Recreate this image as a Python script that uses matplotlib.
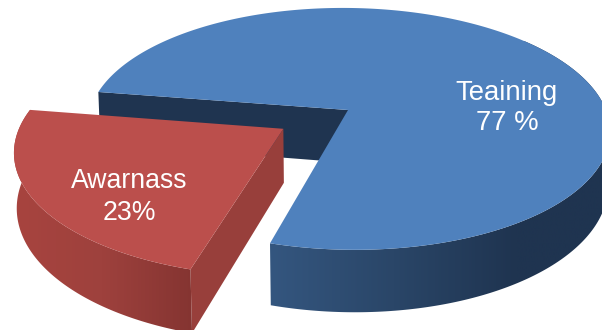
"""Exploded 3D-style pie of training vs awareness shares."""

import numpy as np
import matplotlib
matplotlib.use("Agg")
import matplotlib.pyplot as plt
from matplotlib.colors import LinearSegmentedColormap
from matplotlib.patches import Polygon

# Chart data
categories = ["Awarnass", "Teaining"]
values = [23, 77]
label_texts = ["Awarnass\n23%", "Teaining\n77 %"]

plt.rcParams['font.family'] = ['Liberation Sans', 'DejaVu Sans']

# Projection of the tilted disk onto the page, in pixels
CX, CY = 348.0, 110.0
RX, RY = 258.0, 118.0
PERSPECTIVE = 0.156
DEPTH = 52.7
START_ANGLE = 171.0
EXPLODE = 0.29

# Horizontal drift with distance below the centre: (linear, quadratic)
BLUE_SKEW = (0.05, 0.0)
RED_SKEW = (0.0, 0.00024)


def project(u, v, z, skew):
    """Map disk coordinates (u, v) at drop z (0 top, 1 bottom) to pixels."""
    u, v = np.asarray(u, dtype=float), np.asarray(v, dtype=float)
    den = 1 + PERSPECTIVE * v
    dy = -RY * v / den
    x = CX + RX * u / (den + 0.008 * z) + skew[0] * dy + skew[1] * dy ** 2
    y = CY + dy + DEPTH * z / den
    return x, y


def arc(theta_start, theta_end, offset=(0.0, 0.0), n=200):
    theta = np.radians(np.linspace(theta_start, theta_end, n))
    return offset[0] + np.cos(theta), offset[1] + np.sin(theta)


def draw_rim(ax, theta_start, theta_end, offset, skew, colors, x_range, zorder):
    """Draw the outer wall, shaded left to right and clipped to its outline."""
    u, v = arc(theta_start, theta_end, offset, n=300)
    xt, yt = project(u, v, 0, skew)
    xb, yb = project(u, v, 1, skew)
    outline = np.column_stack([np.r_[xt, xb[::-1]], np.r_[yt, yb[::-1]]])
    clip = Polygon(outline, closed=True, transform=ax.transData, facecolor='none', edgecolor='none')
    ax.add_patch(clip)
    cmap = LinearSegmentedColormap.from_list('rim', colors)
    img = ax.imshow(np.linspace(0, 1, 256).reshape(1, -1), cmap=cmap, aspect='auto',
                    extent=(x_range[0], x_range[1], 330, 0), zorder=zorder)
    img.set_clip_path(clip)


def wedge_top(theta_start, theta_end, offset, skew):
    u, v = arc(theta_start, theta_end, offset, n=300)
    return project(np.r_[offset[0], u], np.r_[offset[1], v], 0, skew)


def side_wall(theta, offset, skew):
    """Flat wall running from the slice apex out to the rim at angle theta."""
    ue, ve = np.cos(np.radians(theta)), np.sin(np.radians(theta))
    us = np.array([0, ue, ue, 0]) + offset[0]
    vs = np.array([0, ve, ve, 0]) + offset[1]
    return project(us, vs, np.array([0, 0, 1, 1]), skew)


fig = plt.figure(figsize=(6.02, 3.30), dpi=100)
ax = fig.add_axes([0, 0, 1, 1])

red_sweep = values[0] / sum(values) * 360
red_end = START_ANGLE + red_sweep
mid = np.radians(START_ANGLE + red_sweep / 2)
offset = (EXPLODE * np.cos(mid), EXPLODE * np.sin(mid))

# Blue slice: inner wall, outer wall, then the top face
x, y = side_wall(START_ANGLE, (0, 0), BLUE_SKEW)
ax.fill(x, y, color='#1f3450', lw=0, zorder=1)
draw_rim(ax, red_end, 400, (0, 0), BLUE_SKEW, ['#34567f', '#2a4668', '#1f3450', '#1f3450'], (270, 640), 1.5)
x, y = wedge_top(red_end, START_ANGLE + 360, (0, 0), BLUE_SKEW)
ax.fill(x, y, color='#4f81bd', lw=0, zorder=2)

# Red slice: flank, outer wall, then the top face
x, y = side_wall(red_end, offset, RED_SKEW)
ax.fill(x, y, color='#983f3b', lw=0, zorder=3)
draw_rim(ax, START_ANGLE, red_end, offset, RED_SKEW, ['#a8443f', '#9e413d', '#843431'], (10, 195), 3.5)
x, y = wedge_top(START_ANGLE, red_end, offset, RED_SKEW)
ax.fill(x, y, color='#bb4f4c', lw=0, zorder=4)

# Slice labels
ax.text(129, 197, label_texts[0], color='white', fontsize=19.2, ha='center', va='center',
        linespacing=1.28, zorder=5)
ax.text(507, 108, label_texts[1], color='white', fontsize=19.8, ha='center', va='center',
        linespacing=1.25, zorder=5)

ax.set_xlim(0, 602)
ax.set_ylim(330, 0)
ax.axis('off')

fig.savefig('out.png', dpi=100)
plt.close(fig)
